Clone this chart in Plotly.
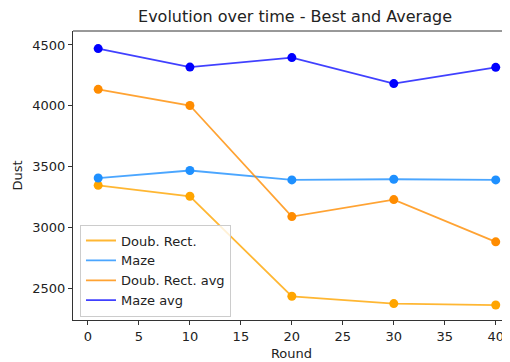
import plotly.graph_objects as go

rounds = [1, 10, 20, 30, 40]
doub_rect = [3345, 3255, 2432, 2372, 2360]
maze = [3405, 3467, 3390, 3395, 3390]
doub_rect_avg = [4135, 4002, 3088, 3228, 2880]
maze_avg = [4470, 4318, 4396, 4182, 4316]

series = [
    ("Doub. Rect.", doub_rect, "rgba(255,165,0,0.8)", "#FFA500"),
    ("Maze", maze, "rgba(30,144,255,0.8)", "#1E90FF"),
    ("Doub. Rect. avg", doub_rect_avg, "rgba(255,140,0,0.8)", "#FF8C00"),
    ("Maze avg", maze_avg, "rgba(0,0,255,0.75)", "#0000FF"),
]

fig = go.Figure()
for name, vals, lc, mc in series:
    fig.add_trace(go.Scatter(x=rounds, y=vals, mode="lines", name=name,
                             line=dict(color=lc, width=1.8)))
for name, vals, lc, mc in series:
    fig.add_trace(go.Scatter(x=rounds, y=vals, mode="markers", showlegend=False,
                             marker=dict(color=mc, size=9), hoverinfo="skip"))

# page body has an 8px margin; compensate so the plot lands where the reference has it
W, H, OFF = 502, 354, 8
axis_font = dict(family="DejaVu Sans", size=13, color="#222")
fig.update_layout(
    width=W, height=H,
    margin=dict(l=73 - OFF, r=0, t=31 - OFF, b=42),
    paper_bgcolor="white", plot_bgcolor="white",
    font=axis_font,
    title=dict(text="Evolution over time - Best and Average", x=(295 - OFF) / W, xref="container",
               xanchor="center", y=1 - (16 - OFF) / H, yanchor="middle",
               font=dict(family="DejaVu Sans", size=16, color="#222")),
    xaxis=dict(range=[-1.47, 41.4], tickvals=[0, 5, 10, 15, 20, 25, 30, 35, 40],
               showgrid=False, zeroline=False, showline=True, linecolor="#333", linewidth=1,
               mirror=False, ticks="outside", ticklen=4, tickcolor="#333",
               title=dict(text="Round", standoff=6, font=axis_font)),
    yaxis=dict(range=[2237, 4615], tickvals=[2500, 3000, 3500, 4000, 4500],
               showgrid=False, zeroline=False, showline=True, linecolor="#333", linewidth=1,
               mirror=False, ticks="outside", ticklen=4, tickcolor="#333",
               title=dict(text="Dust", standoff=6, font=axis_font)),
    legend=dict(x=0.016, y=0.012, xanchor="left", yanchor="bottom",
                bgcolor="rgba(255,255,255,0.8)", bordercolor="#ccc", borderwidth=1,
                font=dict(family="DejaVu Sans", size=13, color="#222"),
                itemwidth=30, tracegroupgap=0),
    showlegend=True,
)
# top spine
fig.add_shape(type="line", xref="paper", yref="paper", x0=0, x1=1, y0=1, y1=1,
              line=dict(color="#333", width=1))
fig.write_html("out.html")
